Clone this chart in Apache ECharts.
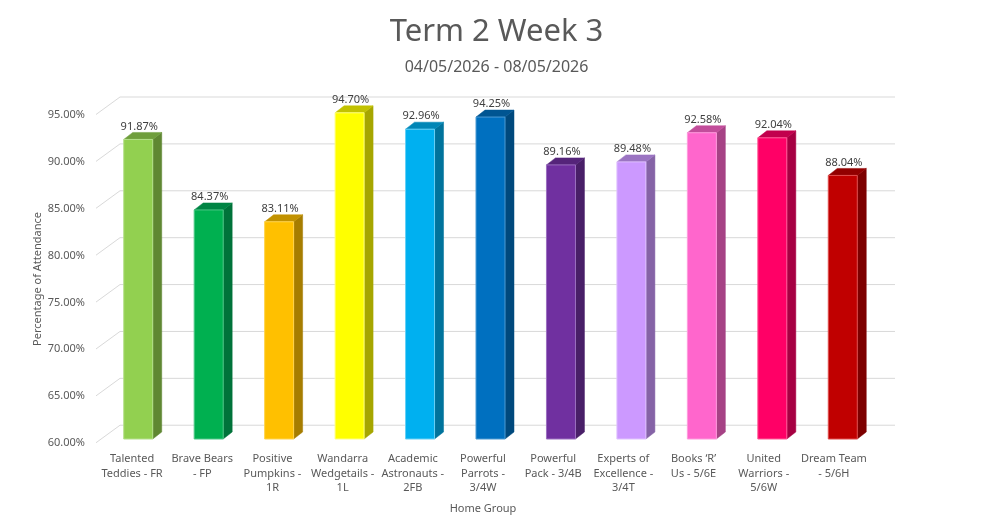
<!DOCTYPE html>
<html><head><meta charset="utf-8">
<script src="https://cdn.jsdelivr.net/npm/echarts@6/dist/echarts.min.js"></script>
<style>html,body{margin:0;padding:0;background:#fff}#c{width:993px;height:532px}</style>
</head><body><div id="c"></div>
<script>
var categories = ["Talented\nTeddies - FR","Brave Bears\n- FP","Positive\nPumpkins -\n1R","Wandarra\nWedgetails -\n1L","Academic\nAstronauts -\n2FB","Powerful\nParrots -\n3/4W","Powerful\nPack - 3/4B","Experts of\nExcellence -\n3/4T","Books \u2018R\u2019\nUs - 5/6E","United\nWarriors -\n5/6W","Dream Team\n- 5/6H"];
var attendance = [91.87, 84.37, 83.11, 94.70, 92.96, 94.25, 89.16, 89.48, 92.58, 92.04, 88.04];
var yTicks = [60, 65, 70, 75, 80, 85, 90, 95];
var frontColors = ["#92d050","#00b050","#ffc000","#ffff00","#00b0f0","#0070c0","#7030a0","#cc99ff","#ff66cc","#ff0066","#c00000"];
var sideColors  = ["#5f8732","#00733a","#a67d00","#a6a600","#00739c","#00497d","#491f68","#8563a6","#a64285","#a60042","#7d0000"];
var topColors   = ["#6f9e3c","#008544","#c29200","#c2c200","#0086b6","#005592","#55247a","#9b74c2","#c24d9b","#c2004d","#920000"];
var edgeColors  = ["#b4e08a","#4dc888","#ffd44d","#ffff80","#66d0f6","#4d9bd3","#9b6fc0","#e0c2ff","#ff99dd","#ff5c98","#e04d4d"];

var textColor = '#595959';
var FONT = 'Noto Sans';
var chart = echarts.init(document.getElementById('c'), null, {renderer:'canvas'});

// back wall: x from 96 (front-left corner) to 895; back-left edge at 120
var WALL_LEFT = 24 / 799;

var option = {
  animation: false,
  backgroundColor: '#ffffff',
  textStyle: {fontFamily: FONT},
  title: [
    {text: 'Term 2 Week 3', left: 'center', top: 12, textStyle: {fontFamily: FONT, fontSize: 31, fontWeight: 'normal', color: textColor}},
    {text: '04/05/2026 - 08/05/2026', left: 'center', top: 54, textStyle: {fontFamily: FONT, fontSize: 16, fontWeight: 'normal', color: textColor}}
  ],
  grid: [
    {left: 97, right: 124, top: 115, bottom: 89},
    {left: 103, right: 115, top: 110, bottom: 93},
    {left: 96, right: 98, top: 97, bottom: 88}
  ],
  xAxis: [
    {gridIndex: 0, type: 'category', data: categories,
     axisLine: {show: false}, axisTick: {show: false},
     axisLabel: {interval: 0, margin: 9, color: textColor, fontSize: 11, lineHeight: 14.5, fontFamily: FONT},
     name: 'Home Group', nameLocation: 'middle', nameGap: 60, nameMoveOverlap: false,
     nameTextStyle: {color: textColor, fontSize: 11, fontFamily: FONT}},
    {gridIndex: 1, type: 'category', data: categories, show: false},
    {gridIndex: 2, type: 'value', min: 0, max: 1, show: false}
  ],
  yAxis: [
    {gridIndex: 0, type: 'value', min: 60, max: 95, interval: 5,
     axisLine: {show: false}, axisTick: {show: false}, splitLine: {show: false},
     axisLabel: {margin: 12, color: textColor, fontSize: 11, fontFamily: FONT,
       formatter: function (v) { return v.toFixed(2) + '%'; }},
     name: 'Percentage of Attendance', nameLocation: 'middle', nameGap: 54, nameMoveOverlap: false,
     nameTextStyle: {color: textColor, fontSize: 11, fontFamily: FONT}},
    {gridIndex: 1, type: 'value', min: 60, max: 95, interval: 5, show: false},
    {gridIndex: 2, type: 'value', min: 58, max: 95, show: false}
  ],
  series: [
    {
      type: 'custom', xAxisIndex: 2, yAxisIndex: 2, z: 1, silent: true,
      data: yTicks.map(function (t) { return [WALL_LEFT, t]; }),
      renderItem: function (params, api) {
        var b = api.coord([api.value(0), api.value(1)]);
        var e = api.coord([1, api.value(1)]);
        return {type: 'group', children: [
          {type: 'polyline', shape: {points: [[b[0] - 24, b[1] + 17.5], [b[0], b[1]], [e[0], e[1]]]},
           style: {stroke: '#d9d9d9', lineWidth: 1, fill: null}}
        ]};
      }
    },
    {
      type: 'custom', xAxisIndex: 1, yAxisIndex: 1, z: 5,
      data: attendance.map(function (v, i) { return [i, v]; }),
      renderItem: function (params, api) {
        var i = api.value(0);
        var top = api.coord([i, api.value(1)]);
        var base = api.coord([i, 60]);
        var w = 29, d = 9, h = 7;
        var x0 = top[0] - w / 2, x1 = top[0] + w / 2, yt = top[1], yb = base[1];
        return {type: 'group', children: [
          {type: 'polygon', shape: {points: [[x1, yt], [x1 + d, yt - h], [x1 + d, yb - h], [x1, yb]]},
           style: {fill: sideColors[i], stroke: sideColors[i], lineWidth: 0.5}},
          {type: 'polygon', shape: {points: [[x0, yt], [x0 + d, yt - h], [x1 + d, yt - h], [x1, yt]]},
           style: {fill: topColors[i], stroke: topColors[i], lineWidth: 0.5}},
          {type: 'rect', shape: {x: x0, y: yt, width: w, height: yb - yt},
           style: {fill: frontColors[i], stroke: edgeColors[i], lineWidth: 1}},
          {type: 'text', x: top[0] + 1, y: yt - 13,
           style: {text: api.value(1).toFixed(2) + '%', fill: '#404040', fontSize: 11, fontFamily: FONT,
                   align: 'center', verticalAlign: 'middle'}}
        ]};
      }
    }
  ]
};
chart.setOption(option);
</script></body></html>
